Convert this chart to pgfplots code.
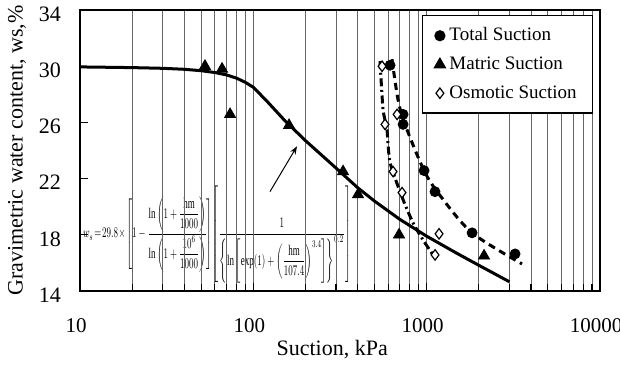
\documentclass[border=0pt]{standalone}
\usepackage{amsmath}
\usepackage{fontspec}
\setmainfont{Liberation Serif}
\usepackage{pgfplots}
\pgfplotsset{compat=1.18}
\usetikzlibrary{arrows.meta}
\pgfdeclarelayer{eqbox}
\pgfplotsset{
  layers/mylayers/.define layer set={axis background,axis grid,eqbox,axis ticks,axis lines,axis tick labels,main,axis descriptions,axis foreground}{},
}
\begin{document}
\begin{tikzpicture}
\begin{axis}[
  set layers=mylayers,
  scale only axis, width=260pt, height=140.5pt,
  xmode=log, xmin=10, xmax=10000, ymin=14, ymax=34,
  xtick={10,100,1000,10000}, xticklabels={10,100,1000,10000},
  minor xtick={20,30,40,50,60,70,80,90,200,300,400,500,600,700,800,900,2000,3000,4000,5000,6000,7000,8000,9000},
  ytick={14,18,22,26,30,34},
  tick pos=left, tick align=inside,
  xmajorgrids, xminorgrids,
  grid style={black!60, line width=0.5pt},
  minor grid style={black!60, line width=0.5pt},
  major tick length=4pt, minor tick length=3.5pt,
  every tick/.style={black, line width=0.6pt},
  axis line style={line width=1pt},
  /pgf/number format/assume math mode=true,
  yticklabel style={font=\fontsize{11}{12}\selectfont, xshift=-6pt, yshift=-2pt},
  xticklabel style={font=\fontsize{10.5}{12}\selectfont, yshift=-10pt, xshift=-2pt},
  xlabel={Suction, kPa},
  ylabel={Gravimetric water content, ws,\%},
  xlabel style={font=\fontsize{11}{12}\selectfont, at={(axis description cs:0.485,-0.21)}, anchor=center},
  ylabel style={font=\fontsize{11}{12}\selectfont, at={(axis description cs:-0.121,0.5)}, anchor=center, rotate=0},
  legend style={at={(0.987,0.982)}, anchor=north east, draw=black, line width=0.6pt,
    font=\fontsize{9.5}{11}\selectfont, row sep=2.5pt, inner xsep=6pt, inner ysep=4pt, fill=white},
  legend cell align=left,
]
% white box behind the equation
\begin{pgfonlayer}{eqbox}
\fill[white] (rel axis cs:0.002,0.028) rectangle (rel axis cs:0.529,0.374);
\node[anchor=west, inner sep=0pt] at (rel axis cs:0.005,0.201) {\resizebox*{134pt}{49pt}{$w_s\!=\!29.8\!\times\!\left[1-\dfrac{\ln\left(1+\dfrac{\text{hm}}{1000}\right)}{\ln\left(1+\dfrac{10^{6}}{1000}\right)}\right]\!\left[\dfrac{1}{\left\{\ln\left[\exp(1)+\left(\dfrac{\text{hm}}{107.4}\right)^{3.4}\right]\right\}^{0.2}}\right]$}};
\end{pgfonlayer}

% model curve
\addplot[black, line width=1.5pt, forget plot] coordinates {
(10,29.95) (20,29.9) (30,29.85) (40,29.78) (50,29.68) (60,29.55) (70,29.38) (80,29.15) (90,28.85) (100,28.5)
(120,27.5) (150,26.2) (200,24.7) (300,22.75) (400,21.35) (500,20.4) (700,19.1) (1000,17.9) (1500,16.67) (2000,15.83) (3000,14.66)};

% total suction fit
\addplot[black, line width=1.5pt, dash pattern=on 3.5pt off 2.5pt, smooth, tension=0.5, forget plot] coordinates {
(631,30.5) (683,27.64) (750,25.86) (966,22.57) (1194,20.8) (1828,18.14) (3548,15.93)};

% osmotic suction fit
\addplot[black, line width=1.5pt, dash pattern=on 4pt off 1.8pt on 1pt off 1.8pt, smooth, tension=0.4, forget plot] coordinates {
(538,30.36) (560,26.93) (590,25.5) (615,23.14) (731,20.5) (834,18.86) (952,17.64) (1089,16.57)};

\addplot[only marks, mark=*, mark size=2.5pt, black] coordinates {
(615,30.07) (731,26.57) (731,25.86) (966,22.57) (1117,21.07) (1828,18.14) (3236,16.64)};
\addlegendentry{Total Suction}

\addplot[only marks, mark=triangle*, mark size=3.2pt, black] coordinates {
(52.6,30.0) (66.0,29.8) (73.4,26.57) (160.7,25.79) (329.3,22.5) (401.8,20.86) (693,18.0) (2143,16.5)};
\addlegendentry{Matric Suction}

\addplot[only marks, mark=diamond*, mark size=2.6pt, black, fill=white, line width=0.6pt] coordinates {
(553,30.0) (675,26.57) (575,25.86) (640,22.5) (721,21.0) (1179,18.07) (1118,16.57)};
\addlegendentry{Osmotic Suction}

\draw[-{Stealth[length=4pt,width=3pt]}, line width=0.5pt] (axis cs:124.7,21.07) -- (axis cs:178.6,24.3);

\coordinate (BL) at (rel axis cs:0,0);
\coordinate (TR) at (rel axis cs:1,1);
\end{axis}
\pgfresetboundingbox
\path ([shift={(-40pt,-37.5pt)}]BL) rectangle ([shift={(10pt,5pt)}]TR);
\end{tikzpicture}
\end{document}
